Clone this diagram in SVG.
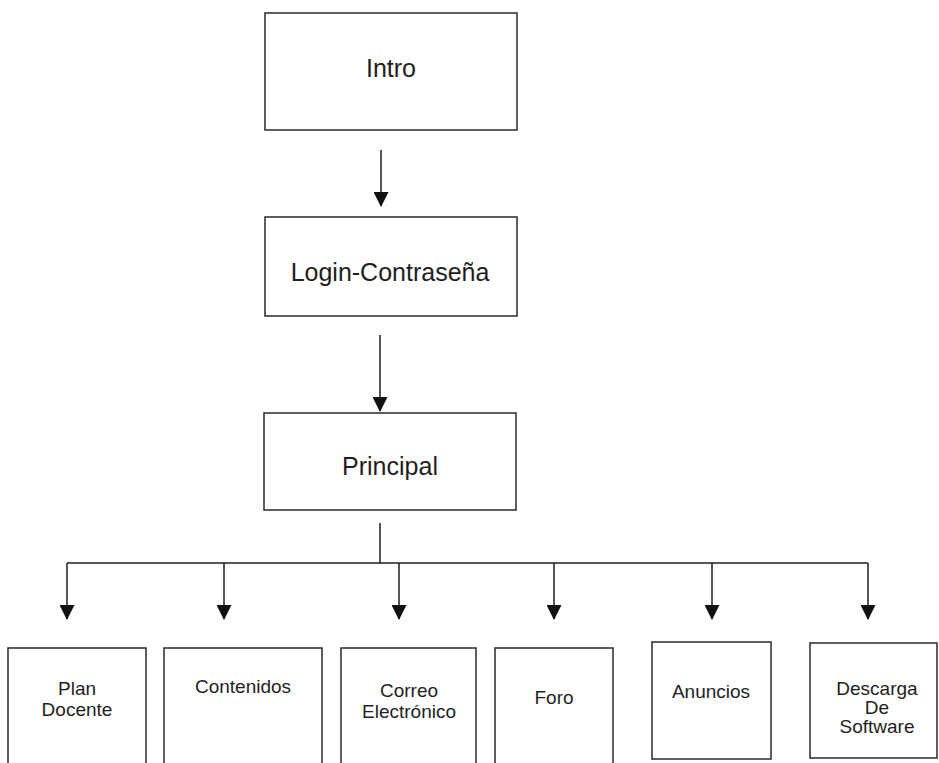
<svg xmlns="http://www.w3.org/2000/svg" width="939" height="763" viewBox="0 0 939 763">
  <style>
    .box { fill: #ffffff; stroke: #2a2a2a; stroke-width: 1.5; }
    .big { font-family: "Liberation Sans", Arial, sans-serif; font-size: 25px; fill: #1e1e1e; text-anchor: middle; }
    .small { font-family: "Liberation Sans", Arial, sans-serif; font-size: 19px; fill: #1e1e1e; text-anchor: middle; }
    .conn { fill: none; stroke: #1e1e1e; stroke-width: 1.5; }
  </style>
  <defs>
    <marker id="arrow" viewBox="0 0 15 15" refX="14" refY="7.5" markerWidth="15" markerHeight="15" markerUnits="userSpaceOnUse" orient="auto">
      <path d="M0,0 L15,7.5 L0,15 Z" fill="#111111"/>
    </marker>
  </defs>
  <rect width="939" height="763" fill="#ffffff"/>

  <g id="connectors">
    <line class="conn" x1="381" y1="150" x2="381" y2="206" marker-end="url(#arrow)"/>
    <line class="conn" x1="380" y1="335" x2="380" y2="411" marker-end="url(#arrow)"/>
    <line class="conn" x1="380" y1="523" x2="380" y2="563"/>
    <line class="conn" x1="67" y1="563" x2="868" y2="563"/>
    <line class="conn" x1="67" y1="563" x2="67" y2="619" marker-end="url(#arrow)"/>
    <line class="conn" x1="224" y1="563" x2="224" y2="619" marker-end="url(#arrow)"/>
    <line class="conn" x1="399" y1="563" x2="399" y2="619" marker-end="url(#arrow)"/>
    <line class="conn" x1="554" y1="563" x2="554" y2="619" marker-end="url(#arrow)"/>
    <line class="conn" x1="712" y1="563" x2="712" y2="619" marker-end="url(#arrow)"/>
    <line class="conn" x1="868" y1="563" x2="868" y2="619" marker-end="url(#arrow)"/>
  </g>

  <g id="intro">
    <rect class="box" x="265" y="13" width="252" height="117"/>
    <text class="big" x="391" y="77">Intro</text>
  </g>
  <g id="login">
    <rect class="box" x="265" y="217" width="252" height="99"/>
    <text class="big" x="390" y="281">Login-Contraseña</text>
  </g>
  <g id="principal">
    <rect class="box" x="264" y="413" width="252" height="97"/>
    <text class="big" x="390" y="475">Principal</text>
  </g>

  <g id="plan-docente">
    <rect class="box" x="8" y="648" width="138" height="125"/>
    <text class="small" x="77" y="695">Plan</text>
    <text class="small" x="77" y="716">Docente</text>
  </g>
  <g id="contenidos">
    <rect class="box" x="164" y="648" width="158" height="125"/>
    <text class="small" x="243" y="693">Contenidos</text>
  </g>
  <g id="correo">
    <rect class="box" x="341" y="648" width="135" height="125"/>
    <text class="small" x="409" y="697">Correo</text>
    <text class="small" x="409" y="718">Electrónico</text>
  </g>
  <g id="foro">
    <rect class="box" x="495" y="648" width="118" height="125"/>
    <text class="small" x="554" y="704">Foro</text>
  </g>
  <g id="anuncios">
    <rect class="box" x="652" y="642" width="119" height="117"/>
    <text class="small" x="711" y="698">Anuncios</text>
  </g>
  <g id="descarga">
    <rect class="box" x="810" y="643" width="127" height="115"/>
    <text class="small" x="877" y="695">Descarga</text>
    <text class="small" x="877" y="714">De</text>
    <text class="small" x="877" y="733">Software</text>
  </g>
</svg>
